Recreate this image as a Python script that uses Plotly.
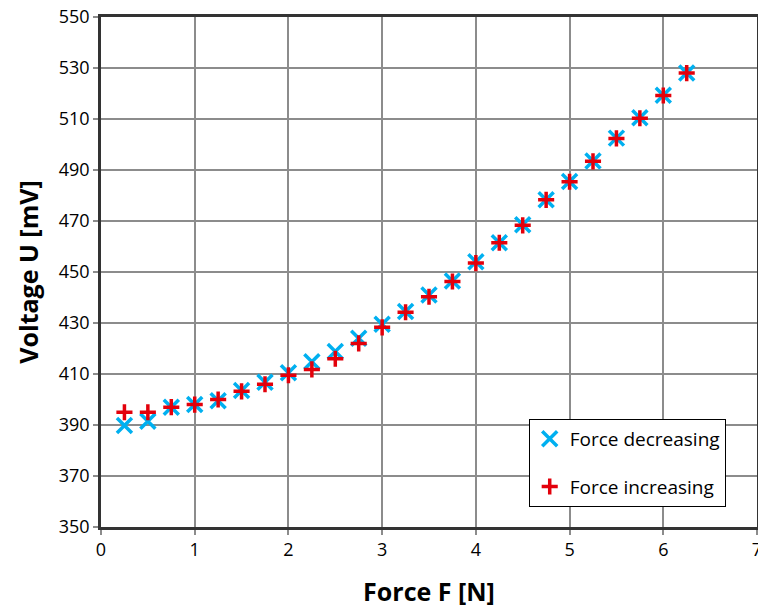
import plotly.graph_objects as go

force = [0.25, 0.5, 0.75, 1.0, 1.25, 1.5, 1.75, 2.0, 2.25, 2.5, 2.75, 3.0, 3.25,
         3.5, 3.75, 4.0, 4.25, 4.5, 4.75, 5.0, 5.25, 5.5, 5.75, 6.0, 6.25]
u_decreasing = [389.8, 391.5, 397.0, 398.0, 399.5, 403.5, 406.8, 410.5, 414.8, 418.8, 424.0,
                429.5, 434.5, 441.0, 446.5, 454.0, 461.5, 468.5, 478.3, 485.5, 493.5,
                502.5, 510.5, 519.3, 528.0]
u_increasing = [395.0, 395.0, 397.0, 398.0, 400.0, 403.2, 406.0, 409.5, 411.8, 416.0, 422.0,
                428.3, 434.2, 440.3, 446.3, 453.5, 461.5, 468.3, 478.3, 485.4, 493.4,
                502.4, 510.3, 519.2, 528.0]

x_ticks = [0, 1, 2, 3, 4, 5, 6, 7]
y_ticks = [350, 370, 390, 410, 430, 450, 470, 490, 510, 530, 550]

FONT = "Open Sans"

fig = go.Figure()
fig.add_trace(go.Scatter(
    x=force, y=u_decreasing, mode="markers", name="Force decreasing",
    legendgroup="a",
    marker=dict(symbol="x-thin", size=15, line=dict(color="#00B0F0", width=3.5), color="#00B0F0"),
))
fig.add_trace(go.Scatter(
    x=force, y=u_increasing, mode="markers", name="Force increasing",
    legendgroup="b",
    marker=dict(symbol="cross-thin", size=11.5, line=dict(color="#E3000B", width=3.5), color="#E3000B"),
))

fig.update_layout(
    width=758, height=610,
    margin=dict(l=101, r=1, t=17, b=83),
    paper_bgcolor="white", plot_bgcolor="white",
    font=dict(family=FONT, size=18, color="#000000"),
    showlegend=True,
    legend=dict(
        x=0.652, y=0.212, xanchor="left", yanchor="top",
        bordercolor="#000000", borderwidth=1, bgcolor="white",
        font=dict(family=FONT, size=19, color="#000000"),
        tracegroupgap=20, traceorder="grouped",
        itemwidth=30,
    ),
    xaxis=dict(
        range=[0, 7], tickvals=x_ticks, ticktext=[str(v) for v in x_ticks],
        showgrid=True, gridcolor="#8c8c8c", gridwidth=1.5,
        showline=True, linecolor="#333333", linewidth=2.5, mirror=True,
        ticks="outside", ticklen=5, tickcolor="#8c8c8c", tickwidth=1.5,
        zeroline=False, ticklabeloverflow="allow", automargin=False,
        title=dict(text="<b>Force F [N]</b>", font=dict(family=FONT, size=25), standoff=24),
        tickfont=dict(family=FONT, size=18),
    ),
    yaxis=dict(
        range=[350, 550], tickvals=y_ticks, ticktext=[str(v) for v in y_ticks],
        showgrid=True, gridcolor="#8c8c8c", gridwidth=1.5,
        showline=True, linecolor="#333333", linewidth=2.5, mirror=True,
        ticks="outside", ticklen=5, tickcolor="#8c8c8c", tickwidth=1.5,
        zeroline=False, automargin=False,
        title=dict(text="<b>Voltage U [mV]</b>", font=dict(family=FONT, size=25), standoff=14),
        tickfont=dict(family=FONT, size=18),
    ),
)

fig.write_html("out.html")
